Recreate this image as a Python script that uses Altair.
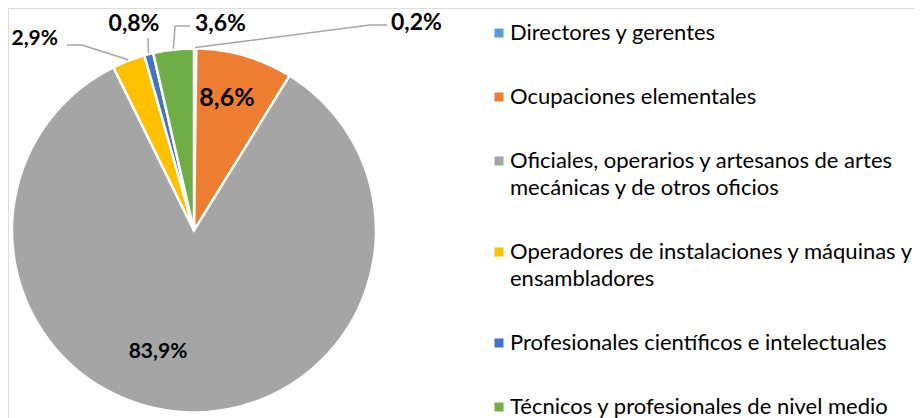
import math
import altair as alt
import pandas as pd

# ---- data ----
categories = [
    "Directores y gerentes",
    "Ocupaciones elementales",
    "Oficiales, operarios y artesanos de artes mecánicas y de otros oficios",
    "Operadores de instalaciones y máquinas y ensambladores",
    "Profesionales científicos e intelectuales",
    "Técnicos y profesionales de nivel medio",
]
values = [0.2, 8.6, 83.9, 2.9, 0.8, 3.6]
colors = ["#5B9BD5", "#ED7D31", "#A5A5A5", "#FFC000", "#4472C4", "#70AD47"]

legend_lines = {
    categories[2]: ["Oficiales, operarios y artesanos de artes", "mecánicas y de otros oficios"],
    categories[3]: ["Operadores de instalaciones y máquinas y", "ensambladores"],
}

# ---- layout (plot coordinates) ----
CX, CY, R = 186, 222.5, 182
# label placement: (text x, text y, align, font size, elbow (x,y) or None, end (x,y) or None)
label_layout = [
    (383, 15, "left", 23, (362, 17), (379, 17)),
    (219, 90, "center", 25, None, None),
    (150, 344, "center", 21, None, None),
    (50, 31, "right", 21, (74, 37), (59, 37)),
    (126, 16, "center", 23, (140, 30), (140, 30)),
    (187, 16, "left", 23, (167, 18), (182, 18)),
]

df = pd.DataFrame({"cat": categories, "value": values, "idx": range(len(values))})

total = sum(values)
rows_txt, rows_seg = [], []
cum = 0.0
for i, v in enumerate(values):
    mid = (cum + v / 2) / total * 2 * math.pi
    cum += v
    tx, ty, al, fs, elbow, end = label_layout[i]
    rows_txt.append({"x": tx, "y": ty, "align": al, "fs": fs,
                     "txt": f"{v:.1f}".replace(".", ",") + "%"})
    if elbow is not None:
        sx = CX + (R + 1) * math.sin(mid)
        sy = CY - (R + 1) * math.cos(mid)
        rows_seg.append({"x": sx, "y": sy, "x2": elbow[0], "y2": elbow[1]})
        if end != elbow:
            rows_seg.append({"x": elbow[0], "y": elbow[1], "x2": end[0], "y2": end[1]})

txt_df = pd.DataFrame(rows_txt)
seg_df = pd.DataFrame(rows_seg)

label_expr = "datum.label"
for k, lines in legend_lines.items():
    arr = "[" + ", ".join("'" + s + "'" for s in lines) + "]"
    label_expr = f"datum.label == '{k}' ? {arr} : ({label_expr})"

arcs = alt.Chart(df).mark_arc(radius=R, stroke="white", strokeWidth=2.5).encode(
    theta=alt.Theta("value:Q", stack=True),
    order=alt.Order("idx:Q"),
    color=alt.Color(
        "cat:N",
        scale=alt.Scale(domain=categories, range=colors),
        sort=categories,
        legend=alt.Legend(
            orient="none", legendX=480, legendY=14, title=None,
            symbolType="square", symbolSize=81, symbolStrokeWidth=0,
            labelFont="Lato", labelFontSize=22, labelColor="#000000",
            labelOffset=0, labelLimit=0, rowPadding=42,
            labelExpr=label_expr,
        ),
    ),
    x=alt.value(CX),
    y=alt.value(CY),
)

segs = alt.Chart(seg_df).mark_rule(color="#A6A6A6", strokeWidth=1.5).encode(
    x=alt.X("x:Q", scale=None), y=alt.Y("y:Q", scale=None),
    x2="x2:Q", y2="y2:Q",
)

text_layers = []
for al in ["left", "center", "right"]:
    sub = txt_df[txt_df["align"] == al]
    if len(sub):
        text_layers.append(
            alt.Chart(sub).mark_text(font="Lato", fontWeight="bold", color="#000000",
                                     align=al, baseline="middle").encode(
                x=alt.X("x:Q", scale=None), y=alt.Y("y:Q", scale=None),
                text="txt:N", size=alt.Size("fs:Q", scale=None),
            )
        )

chart = alt.layer(arcs, segs, *text_layers).properties(
    width=907, height=410, padding=0, autosize=alt.AutoSizeParams(type="none"),
    background="white",
).configure_view(stroke=None).configure(style={"guide-label": {"lineHeight": 27}})

chart.save("out.html", embed_options={"renderer": "svg", "actions": False})
